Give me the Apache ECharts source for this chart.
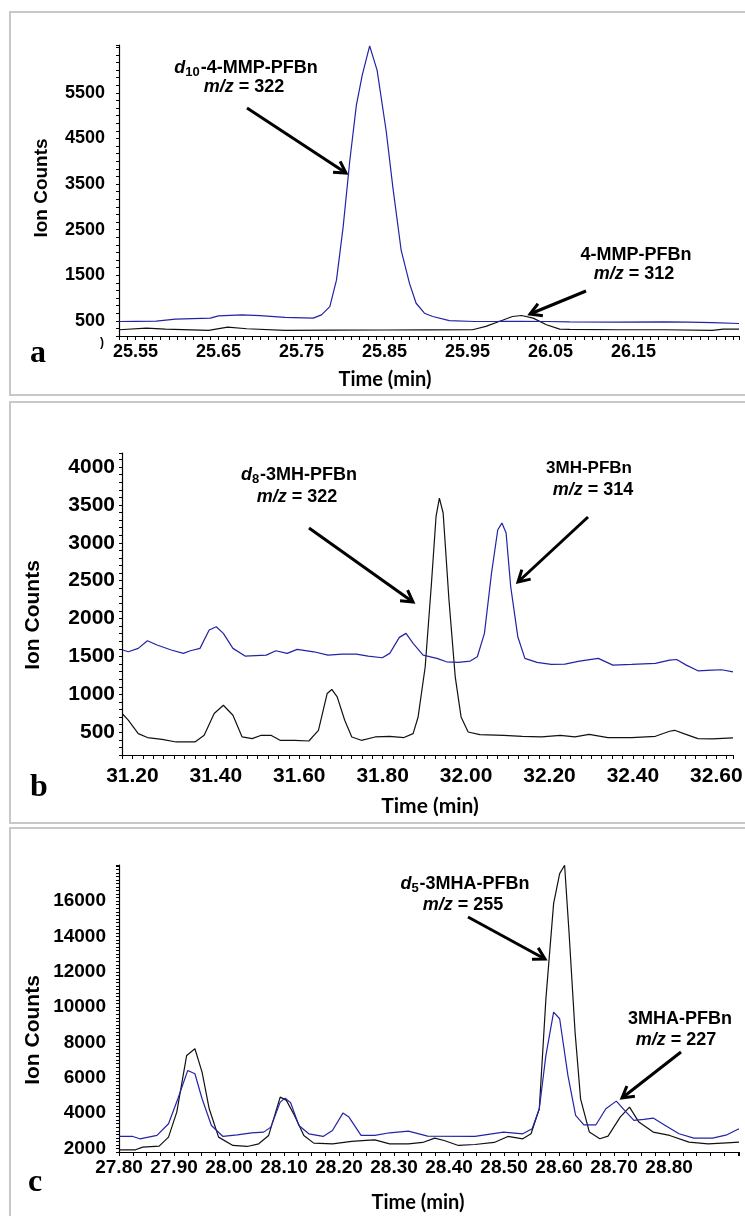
<!DOCTYPE html>
<html>
<head>
<meta charset="utf-8">
<script src="https://cdn.jsdelivr.net/npm/echarts@6/dist/echarts.min.js"></script>
<style>
  html, body { margin: 0; padding: 0; background: #fff; }
  #chart { width: 745px; height: 1216px; }
</style>
</head>
<body>
<div id="chart"></div>
<script>
// ---- panel a: 4-MMP ----
const aXTicks = ['25.55', '25.65', '25.75', '25.85', '25.95', '26.05', '26.15'];
const aYTicks = [500, 1500, 2500, 3500, 4500, 5500];
const aBlueTime = [25.530, 25.550, 25.575, 25.598, 25.640, 25.650, 25.678, 25.700, 25.730, 25.764, 25.774, 25.784, 25.792, 25.800, 25.808, 25.816, 25.823, 25.832, 25.841, 25.852, 25.860, 25.870, 25.880, 25.888, 25.898, 25.908, 25.928, 25.958, 25.987, 26.016, 26.045, 26.073, 26.130, 26.187, 26.216, 26.245, 26.277];
const aBlueCounts = [485, 488, 492, 535, 558, 609, 630, 612, 575, 558, 630, 811, 1391, 2550, 4000, 5232, 5884, 6530, 5993, 4652, 3420, 2043, 1320, 885, 667, 594, 505, 485, 487, 490, 485, 478, 470, 478, 470, 460, 441];
const aBlackTime = [25.530, 25.563, 25.586, 25.638, 25.661, 25.684, 25.730, 25.787, 25.850, 25.901, 25.956, 25.972, 25.988, 26.004, 26.015, 26.029, 26.045, 26.061, 26.073, 26.130, 26.187, 26.245, 26.258, 26.277];
const aBlackCounts = [304, 341, 319, 290, 363, 326, 290, 296, 298, 300, 304, 377, 485, 594, 616, 558, 413, 319, 310, 304, 304, 290, 319, 319];

// ---- panel b: 3MH ----
const bXTicks = ['31.20', '31.40', '31.60', '31.80', '32.00', '32.20', '32.40', '32.60'];
const bYTicks = [500, 1000, 1500, 2000, 2500, 3000, 3500, 4000];
const bBlueTime = [31.177, 31.190, 31.214, 31.236, 31.259, 31.293, 31.322, 31.339, 31.362, 31.384, 31.401, 31.418, 31.441, 31.470, 31.521, 31.544, 31.571, 31.595, 31.635, 31.669, 31.703, 31.737, 31.765, 31.799, 31.817, 31.840, 31.856, 31.873, 31.897, 31.930, 31.953, 31.981, 32.010, 32.027, 32.044, 32.061, 32.076, 32.086, 32.096, 32.107, 32.124, 32.141, 32.170, 32.204, 32.237, 32.272, 32.317, 32.352, 32.397, 32.454, 32.488, 32.505, 32.528, 32.556, 32.590, 32.613, 32.640];
const bBlueCounts = [1585, 1562, 1607, 1708, 1651, 1585, 1541, 1576, 1607, 1849, 1893, 1805, 1607, 1505, 1518, 1576, 1541, 1594, 1562, 1518, 1532, 1532, 1505, 1483, 1541, 1752, 1805, 1673, 1518, 1475, 1430, 1422, 1439, 1496, 1805, 2599, 3172, 3260, 3128, 2422, 1761, 1475, 1422, 1395, 1400, 1439, 1475, 1386, 1395, 1408, 1452, 1460, 1386, 1311, 1320, 1325, 1298];
const bBlackTime = [31.177, 31.190, 31.214, 31.236, 31.271, 31.305, 31.350, 31.372, 31.396, 31.418, 31.441, 31.463, 31.487, 31.509, 31.532, 31.554, 31.589, 31.623, 31.646, 31.667, 31.678, 31.691, 31.709, 31.726, 31.749, 31.782, 31.817, 31.851, 31.873, 31.885, 31.902, 31.917, 31.928, 31.936, 31.945, 31.959, 31.974, 31.988, 32.005, 32.033, 32.090, 32.135, 32.181, 32.226, 32.261, 32.295, 32.340, 32.397, 32.454, 32.488, 32.500, 32.522, 32.556, 32.590, 32.640];
const bBlackCounts = [738, 659, 482, 430, 407, 372, 372, 460, 747, 857, 725, 438, 416, 460, 460, 394, 394, 385, 526, 1012, 1065, 967, 659, 438, 394, 438, 447, 430, 482, 702, 1364, 2467, 3348, 3589, 3393, 2246, 1231, 702, 504, 469, 460, 447, 438, 460, 438, 473, 430, 430, 447, 513, 526, 482, 416, 412, 425];

// ---- panel c: 3MHA ----
const cXTicks = ['27.80', '27.90', '28.00', '28.10', '28.20', '28.30', '28.40', '28.50', '28.60', '28.70', '28.80'];
const cYTicks = [2000, 4000, 6000, 8000, 10000, 12000, 14000, 16000];
const cBlueTime = [27.800, 27.825, 27.838, 27.869, 27.890, 27.907, 27.925, 27.938, 27.951, 27.968, 27.989, 28.015, 28.041, 28.063, 28.076, 28.093, 28.102, 28.112, 28.127, 28.145, 28.171, 28.188, 28.207, 28.218, 28.240, 28.265, 28.292, 28.326, 28.361, 28.447, 28.499, 28.534, 28.551, 28.564, 28.576, 28.590, 28.601, 28.616, 28.630, 28.645, 28.667, 28.685, 28.704, 28.719, 28.736, 28.754, 28.771, 28.793, 28.818, 28.845, 28.879, 28.905, 28.927];
const cBlueCounts = [2680, 2680, 2548, 2737, 3397, 4813, 6419, 6231, 4813, 3303, 2680, 2774, 2888, 2925, 3208, 4625, 4851, 4587, 3303, 2831, 2680, 3020, 4002, 3775, 2737, 2737, 2888, 2982, 2699, 2680, 2925, 2831, 3114, 4247, 7269, 9723, 9346, 6136, 3870, 3341, 3341, 4247, 4681, 4153, 3586, 3643, 3719, 3303, 2831, 2586, 2586, 2774, 3114];
const cBlackTime = [27.800, 27.830, 27.843, 27.873, 27.890, 27.905, 27.923, 27.938, 27.951, 27.964, 27.981, 28.007, 28.033, 28.054, 28.072, 28.093, 28.104, 28.119, 28.136, 28.154, 28.188, 28.223, 28.249, 28.265, 28.292, 28.326, 28.352, 28.374, 28.391, 28.417, 28.447, 28.482, 28.507, 28.534, 28.549, 28.564, 28.576, 28.590, 28.601, 28.610, 28.618, 28.629, 28.639, 28.655, 28.674, 28.689, 28.711, 28.728, 28.745, 28.771, 28.801, 28.836, 28.871, 28.905, 28.927];
const cBlackCounts = [1925, 1925, 2076, 2132, 2643, 4058, 7269, 7647, 6325, 4247, 2643, 2170, 2113, 2264, 2737, 4907, 4738, 3870, 2737, 2302, 2264, 2397, 2453, 2490, 2264, 2264, 2340, 2586, 2453, 2170, 2226, 2340, 2680, 2548, 2831, 4247, 10482, 15864, 17564, 18034, 14255, 8590, 4813, 2926, 2548, 2700, 3775, 4342, 3492, 2926, 2737, 2359, 2264, 2321, 2359];

const BLUE = '#2323a6';
const BLACK = '#111111';
const FONT = 'Liberation Sans';

var dom = document.getElementById('chart');
var myChart = echarts.init(dom, null, { renderer: 'canvas' });

function trace(idx, times, counts, color) {
    return {
        type: 'line',
        xAxisIndex: idx,
        yAxisIndex: idx,
        data: times.map((t, i) => [t, counts[i]]),
        showSymbol: false,
        symbol: 'none',
        silent: true,
        lineStyle: { color: color, width: 1.2 },
        z: color === BLUE ? 3 : 2
    };
}

function xAxis(idx, min, max, interval, ticks, fontSize, margin) {
    return {
        type: 'value', gridIndex: idx, min: min, max: max, interval: interval,
        axisLine: { show: true, onZero: false, lineStyle: { color: '#000', width: 1.2 } },
        axisTick: { show: true, length: 4, lineStyle: { color: '#000', width: 1 } },
        splitLine: { show: false },
        axisLabel: {
            color: '#000', fontWeight: 'bold', fontFamily: FONT, fontSize: fontSize, margin: margin,
            showMinLabel: true, showMaxLabel: true, hideOverlap: false,
            formatter: v => { const s = v.toFixed(2); return ticks.includes(s) ? s : ''; }
        }
    };
}

function yAxis(idx, min, max, interval, ticks, fontSize, margin) {
    return {
        type: 'value', gridIndex: idx, min: min, max: max, interval: interval,
        axisLine: { show: true, onZero: false, lineStyle: { color: '#000', width: 1.2 } },
        axisTick: { show: true, length: 3, lineStyle: { color: '#000', width: 1 } },
        splitLine: { show: false },
        axisLabel: {
            color: '#000', fontWeight: 'bold', fontFamily: FONT, fontSize: fontSize, margin: margin,
            showMinLabel: true, showMaxLabel: true, hideOverlap: false,
            formatter: v => { const r = Math.round(v); return ticks.includes(r) ? String(r) : ''; }
        }
    };
}

function box(x, y, w, h) {
    return { type: 'rect', shape: { x: x, y: y, width: w, height: h }, style: { fill: null, stroke: '#c8c8c8', lineWidth: 2 }, silent: true };
}

function txt(x, y, text, size, opts) {
    opts = opts || {};
    return {
        type: 'text', x: x, y: y, rotation: opts.rotation || 0, silent: true,
        style: {
            text: text, fill: '#000', align: 'center', verticalAlign: opts.va || 'middle',
            fontSize: size, fontWeight: 'bold', fontFamily: opts.family || FONT,
            rich: {
                i: { fontStyle: 'italic', fontWeight: 'bold', fontSize: size, fontFamily: FONT, fill: '#000' },
                sub: { fontWeight: 'bold', fontSize: Math.round(size * 0.72), fontFamily: FONT, fill: '#000', padding: [8, 1, 0, 0] }
            }
        }
    };
}

function arrow(x1, y1, x2, y2) {
    const ang = Math.atan2(y2 - y1, x2 - x1);
    const len = 13, spread = Math.PI / 6;
    const p1 = [x2 - len * Math.cos(ang - spread), y2 - len * Math.sin(ang - spread)];
    const p2 = [x2 - len * Math.cos(ang + spread), y2 - len * Math.sin(ang + spread)];
    return [
        { type: 'line', silent: true, shape: { x1: x1, y1: y1, x2: x2, y2: y2 }, style: { stroke: '#000', lineWidth: 3 } },
        { type: 'polyline', silent: true, shape: { points: [p1, [x2, y2], p2] }, style: { stroke: '#000', lineWidth: 3, fill: null, lineJoin: 'miter' } }
    ];
}

var graphics = [
    box(10, 12, 760, 383),
    box(10, 402, 760, 421),
    box(10, 828, 760, 420),

    // panel a
    txt(246, 68, '{i|d}{sub|10}-4-MMP-PFBn', 18),
    txt(244, 87, '{i|m/z} = 322', 18),
    txt(636, 255, '4-MMP-PFBn', 18),
    txt(634, 274, '{i|m/z} = 312', 18),
    txt(42, 188, 'Ion Counts', 19, { rotation: Math.PI / 2 }),
    txt(385, 380, 'Time (min)', 20, { family: 'Lato' }),
    txt(38, 370, 'a', 32, { family: 'Liberation Serif', va: 'bottom' }),
    txt(102, 343, ')', 12),

    // panel b
    txt(299, 475, '{i|d}{sub|8}-3MH-PFBn', 18),
    txt(297, 497, '{i|m/z} = 322', 18),
    txt(589, 468, '3MH-PFBn', 17),
    txt(593, 490, '{i|m/z} = 314', 18),
    txt(33, 615, 'Ion Counts', 21, { rotation: Math.PI / 2 }),
    txt(430, 806, 'Time (min)', 21, { family: 'Lato' }),
    txt(39, 804, 'b', 32, { family: 'Liberation Serif', va: 'bottom' }),

    // panel c
    txt(465, 884, '{i|d}{sub|5}-3MHA-PFBn', 18),
    txt(463, 905, '{i|m/z} = 255', 18),
    txt(680, 1019, '3MHA-PFBn', 18),
    txt(676, 1040, '{i|m/z} = 227', 18),
    txt(33, 1030, 'Ion Counts', 21, { rotation: Math.PI / 2 }),
    txt(418, 1203, 'Time (min)', 20, { family: 'Lato' }),
    txt(35, 1199, 'c', 32, { family: 'Liberation Serif', va: 'bottom' })
]
    .concat(arrow(247, 108, 346, 173))
    .concat(arrow(586, 291, 530, 314))
    .concat(arrow(309, 528, 413, 602))
    .concat(arrow(588, 517, 518, 582))
    .concat(arrow(468, 917, 545, 959))
    .concat(arrow(681, 1052, 622, 1098));

var option = {
    animation: false,
    backgroundColor: '#fff',
    grid: [
        { left: 119, top: 45, width: 620, height: 291, outerBoundsMode: 'none' },
        { left: 122, top: 453, width: 611, height: 302, outerBoundsMode: 'none' },
        { left: 119, top: 865, width: 620, height: 287, outerBoundsMode: 'none' }
    ],
    xAxis: [
        xAxis(0, 25.53, 26.277, 0.01, aXTicks, 18, 7),
        xAxis(1, 31.175, 32.64, 0.025, bXTicks, 21, 11),
        xAxis(2, 27.8, 28.927, 0.025, cXTicks, 19, 6)
    ],
    yAxis: [
        yAxis(0, 500 / 3, 6550, 500 / 3, aYTicks, 18, 14),
        yAxis(1, 200, 4185, 100, bYTicks, 21, 7),
        yAxis(2, 1800, 18050, 200, cYTicks, 19, 13)
    ],
    series: [
        trace(0, aBlackTime, aBlackCounts, BLACK),
        trace(0, aBlueTime, aBlueCounts, BLUE),
        trace(1, bBlackTime, bBlackCounts, BLACK),
        trace(1, bBlueTime, bBlueCounts, BLUE),
        trace(2, cBlackTime, cBlackCounts, BLACK),
        trace(2, cBlueTime, cBlueCounts, BLUE)
    ],
    graphic: graphics
};

myChart.setOption(option);
window.addEventListener('resize', myChart.resize);
</script>
</body>
</html>
